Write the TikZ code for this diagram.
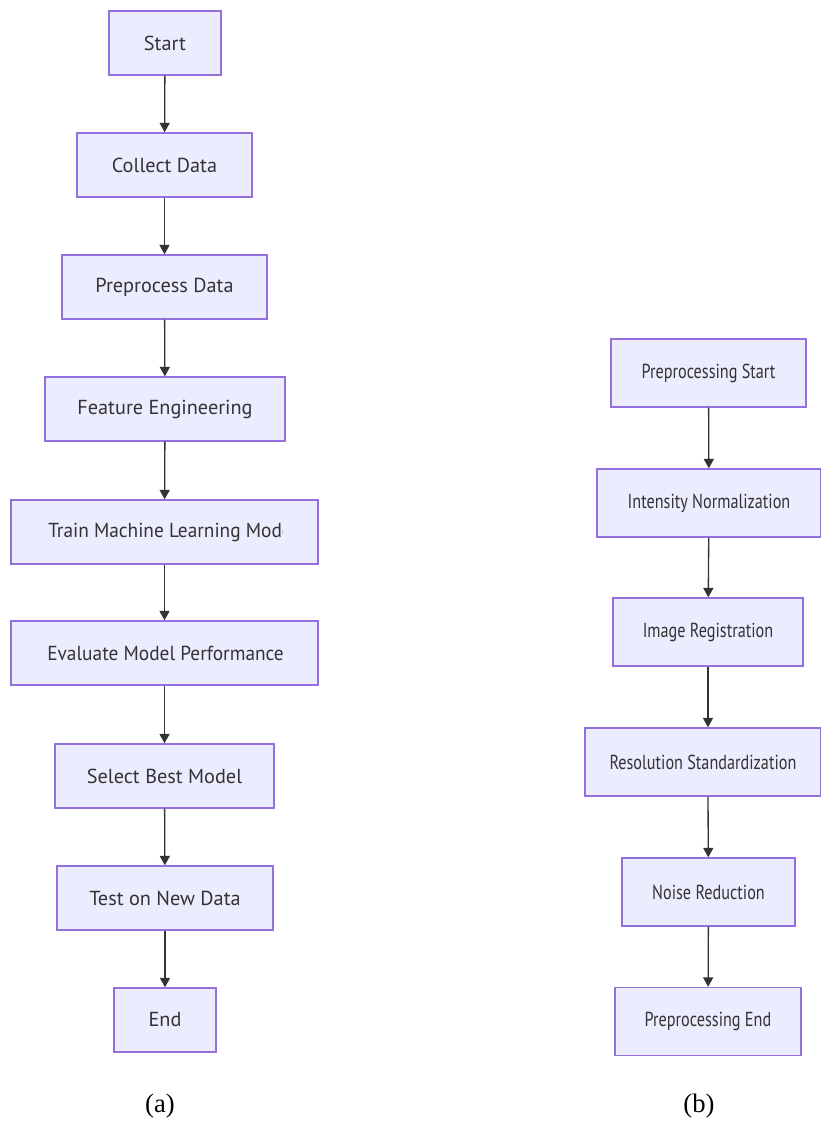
\documentclass[tikz,border=0pt]{standalone}
\usepackage{fontspec}
\setmainfont{Liberation Serif}
\newfontfamily\boxfont{PT Sans}
\newfontfamily\boxfontc[FakeStretch=0.8]{PT Sans}
\newfontfamily\boxfontn[FakeStretch=0.955]{PT Sans}
\usetikzlibrary{arrows.meta}
\definecolor{boxfill}{HTML}{ECECFF}
\definecolor{boxline}{HTML}{9370DB}
\definecolor{ink}{HTML}{333333}
\tikzset{
  flowbox/.style={draw=boxline, fill=boxfill, line width=1.1pt, inner sep=0pt, text=ink},
  lbox/.style={flowbox, minimum height=48pt, font=\boxfont\fontsize{15.2}{17}\selectfont},
  rbox/.style={flowbox, minimum height=51pt, font=\boxfontc\fontsize{15.2}{17}\selectfont},
  flowarrow/.style={draw=ink, line width=1pt, -{Triangle[length=7pt,width=7.5pt]}},
  cliptext/.style={anchor=west, inner sep=0pt, text=ink, font=\boxfontn\fontsize{15.2}{17}\selectfont},
  caption/.style={font=\fontsize{20}{22}\selectfont}
}
\begin{document}
\begin{tikzpicture}[x=0.75pt,y=-0.75pt]
\useasboundingbox (0,0) rectangle (821,1122);
% left column
\node[lbox, minimum width=84pt] (start) at (165,43) {Start};
\node[lbox, minimum width=131.25pt] (collect) at (164.5,165) {Collect Data};
\node[lbox, minimum width=153.75pt] (prep) at (164.5,287) {Preprocess Data};
\node[lbox, minimum width=180pt] (feat) at (165,409) {Feature Engineering};
\node[lbox, minimum width=230.25pt] (train) at (164.5,532) {};
\node[lbox, minimum width=230.25pt] (eval) at (164.5,653) {};
\begin{scope}
\clip (48,500) rectangle (282,564);
\node[cliptext] (traintext) at (48,532) {Train Machine Learning Model};
\end{scope}
\begin{scope}
\clip (47,621) rectangle (282,685);
\node[cliptext] (evaltext) at (47,653) {Evaluate Model Performance};
\end{scope}
\node[lbox, minimum width=164.25pt] (select) at (164.5,776) {Select Best Model};
\node[lbox, minimum width=162pt] (test) at (165,898) {Test on New Data};
\node[lbox, minimum width=76.5pt] (end) at (165,1020) {End};
\draw[flowarrow] (start) -- (collect);
\draw[flowarrow] (collect) -- (prep);
\draw[flowarrow] (prep) -- (feat);
\draw[flowarrow] (feat) -- (train);
\draw[flowarrow] (train) -- (eval);
\draw[flowarrow] (eval) -- (select);
\draw[flowarrow] (select) -- (test);
\draw[flowarrow] (test) -- (end);
% right column
\node[rbox, minimum width=146.25pt] (pstart) at (708.5,373) {Preprocessing Start};
\node[rbox, minimum width=168pt] (norm) at (709,503) {Intensity Normalization};
\node[rbox, minimum width=142.5pt] (reg) at (708,632) {Image Registration};
\node[rbox, minimum width=177pt] (res) at (703,762) {Resolution Standardization};
\node[rbox, minimum width=129.75pt] (noise) at (708.5,892) {Noise Reduction};
\node[rbox, minimum width=139.5pt] (pend) at (708,1021.5) {Preprocessing End};
\draw[flowarrow] (pstart) -- (norm);
\draw[flowarrow] (norm) -- (reg);
\draw[flowarrow] (reg) -- (res.north -| reg.south);
\draw[flowarrow] (res.south -| reg.south) -- (noise);
\draw[flowarrow] (noise) -- (pend);
% captions
\node[caption] (capa) at (160,1106) {(a)};
\node[caption] (capb) at (699,1106) {(b)};
\end{tikzpicture}
\end{document}
